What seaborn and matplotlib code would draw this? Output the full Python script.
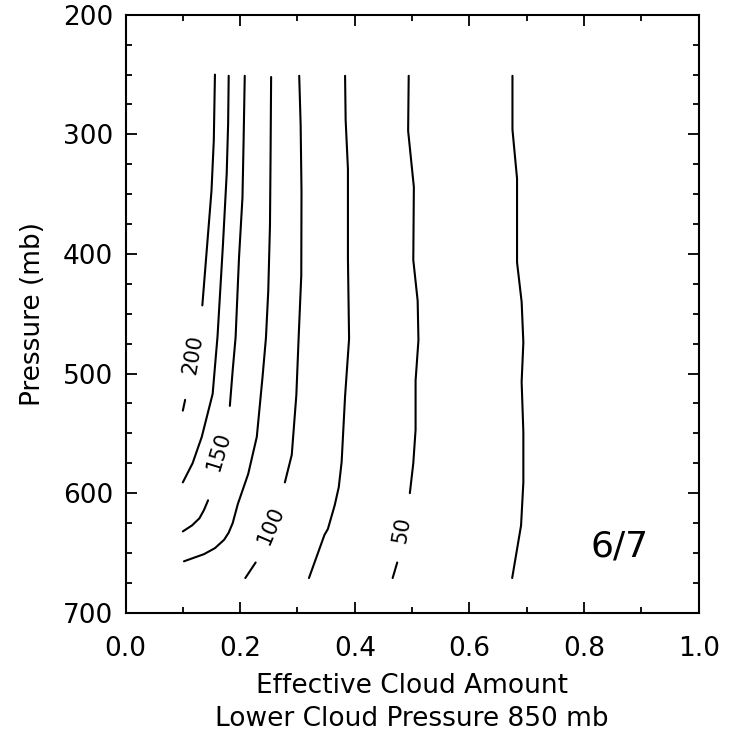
import numpy as np
import pandas as pd
import matplotlib
matplotlib.use("Agg")
import matplotlib.pyplot as plt
from matplotlib.ticker import MultipleLocator
import seaborn as sns

# ---- contour lines (pressure in mb, effective cloud amount) ----
c200_a_p = [250, 305, 347, 380, 443]
c200_a_x = [0.156, 0.154, 0.150, 0.1445, 0.134]
c200_b_p = [522, 531]
c200_b_x = [0.104, 0.100]

c175_p = [251, 291, 333, 392, 469, 517, 553, 575, 591]
c175_x = [0.180, 0.179, 0.1765, 0.170, 0.1605, 0.152, 0.133, 0.117, 0.100]

c150_a_p = [251, 305, 353, 403, 470, 497, 527]
c150_a_x = [0.208, 0.206, 0.204, 0.198, 0.192, 0.187, 0.182]
c150_b_p = [606, 614, 621, 627, 632]
c150_b_x = [0.144, 0.137, 0.129, 0.116, 0.100]

c125_p = [252, 320, 376, 431, 470, 503, 553, 584, 609, 625, 633, 639, 646, 651, 657]
c125_x = [0.254, 0.253, 0.252, 0.249, 0.245, 0.239, 0.229, 0.214, 0.196, 0.187, 0.180,
          0.172, 0.156, 0.137, 0.102]

c100_a_p = [251, 292, 348, 418, 470, 518, 568, 591]
c100_a_x = [0.303, 0.3055, 0.307, 0.3066, 0.302, 0.298, 0.290, 0.278]
c100_b_p = [658, 671]
c100_b_x = [0.227, 0.209]

c75_p = [251, 288, 329, 377, 404, 471, 519, 574, 595, 610, 630, 635, 671]
c75_x = [0.383, 0.384, 0.388, 0.388, 0.388, 0.390, 0.383, 0.377, 0.372, 0.365, 0.353,
         0.347, 0.320]

c50_a_p = [251, 297, 344, 405, 439, 472, 506, 547, 575, 600]
c50_a_x = [0.494, 0.493, 0.503, 0.502, 0.5096, 0.511, 0.506, 0.506, 0.502, 0.496]
c50_b_p = [658, 671]
c50_b_x = [0.474, 0.466]

c25_p = [251, 296, 337, 407, 440, 474, 507, 549, 591, 627, 671]
c25_x = [0.675, 0.675, 0.683, 0.683, 0.691, 0.694, 0.691, 0.694, 0.694, 0.690, 0.6745]

# contour labels: text, x, pressure
label_text = ["200", "150", "100", "50"]
label_x = [0.1175, 0.162, 0.254, 0.482]
label_p = [484, 565, 627, 631]

x_ticks = [0.0, 0.2, 0.4, 0.6, 0.8, 1.0]
x_ticklabels = ["0.0", "0.2", "0.4", "0.6", "0.8", "1.0"]
y_ticks = [200, 300, 400, 500, 600, 700]
y_ticklabels = ["200", "300", "400", "500", "600", "700"]
panel_text = "6/7"

segments = [
    ("200a", c200_a_x, c200_a_p), ("200b", c200_b_x, c200_b_p),
    ("175", c175_x, c175_p),
    ("150a", c150_a_x, c150_a_p), ("150b", c150_b_x, c150_b_p),
    ("125", c125_x, c125_p),
    ("100a", c100_a_x, c100_a_p), ("100b", c100_b_x, c100_b_p),
    ("75", c75_x, c75_p),
    ("50a", c50_a_x, c50_a_p), ("50b", c50_b_x, c50_b_p),
    ("25", c25_x, c25_p),
]
rows = []
for name, xs, ps in segments:
    for xv, pv in zip(xs, ps):
        rows.append({"seg": name, "x": xv, "p": pv})
df = pd.DataFrame(rows)

sns.set_theme(style="ticks")
plt.rcParams["font.family"] = ["DejaVu Sans"]
for k in ["text.color", "axes.labelcolor", "xtick.color", "ytick.color", "axes.edgecolor"]:
    plt.rcParams[k] = "black"

fig = plt.figure(figsize=(7.34, 7.40), dpi=100)
ax = fig.add_axes([0.171, 0.172, 0.781, 0.808])

sns.lineplot(data=df, x="x", y="p", units="seg", estimator=None, sort=False,
             color="black", linewidth=1.5, ax=ax, legend=False)

# label rotations follow the local slope of each line
label_rot = [80, 73, 67, 80]
for t, xv, pv, r in zip(label_text, label_x, label_p, label_rot):
    ax.text(xv, pv, t, rotation=r, rotation_mode="anchor", ha="center", va="center",
            fontsize=15, color="black")

ax.text(0.862, 645, panel_text, ha="center", va="center", fontsize=26, color="black")

ax.set_xlim(0.0, 1.0)
ax.set_ylim(700, 200)
ax.set_xticks(x_ticks)
ax.set_xticklabels(x_ticklabels)
ax.set_yticks(y_ticks)
ax.set_yticklabels(y_ticklabels)
ax.xaxis.set_minor_locator(MultipleLocator(0.1))
ax.yaxis.set_minor_locator(MultipleLocator(25))

ax.tick_params(which="both", direction="in", top=True, right=True, color="black",
               width=1.3, labelcolor="black")
ax.tick_params(which="major", length=8)
ax.tick_params(which="minor", length=4)
ax.tick_params(axis="x", which="major", labelsize=19, pad=17)
ax.tick_params(axis="y", which="major", labelsize=19, pad=9)

for sp in ax.spines.values():
    sp.set_visible(True)
    sp.set_linewidth(1.5)
    sp.set_color("black")

ax.set_xlabel("Effective Cloud Amount\nLower Cloud Pressure 850 mb", fontsize=19,
              linespacing=1.35, labelpad=8, color="black")
ax.set_ylabel("Pressure (mb)", fontsize=19, labelpad=12, color="black")

fig.savefig("out.png", dpi=100, facecolor="white")
